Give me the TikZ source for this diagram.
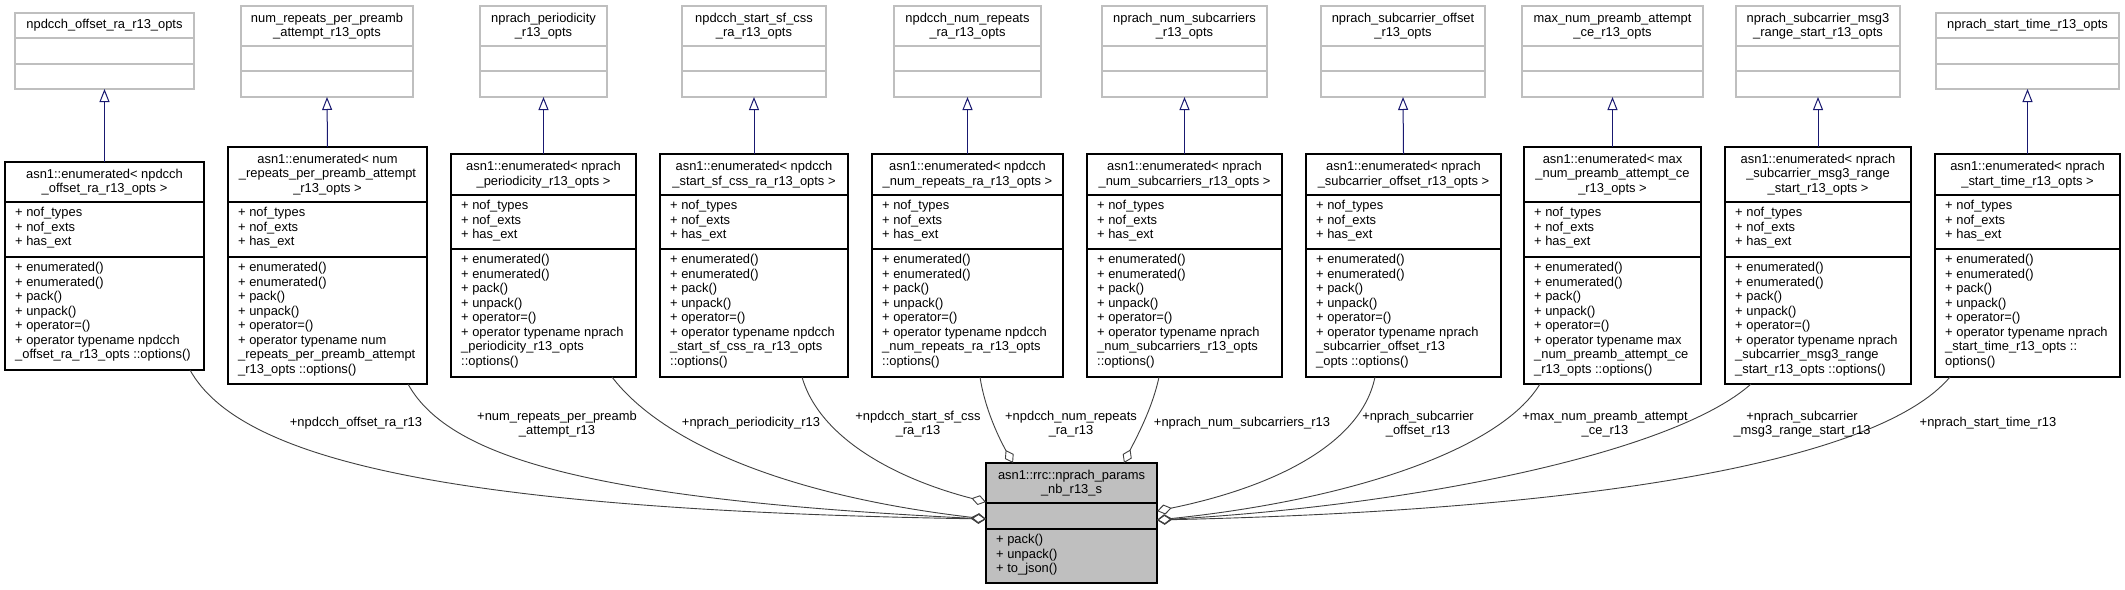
\documentclass[tikz,border=0pt]{standalone}
\usepackage{fontspec}
\setmainfont{Liberation Sans}
\usetikzlibrary{arrows.meta,calc}
\definecolor{gbord}{HTML}{BFBFBF}
\definecolor{cfill}{HTML}{BFBFBF}
\definecolor{inhc}{HTML}{191970}
\definecolor{aggc}{HTML}{404040}
\newcommand{\umlframe}[8]{%
  \node[#2, minimum width={#4-#3}, minimum height={#8-#5}, anchor=north west] (#1) at (#3,#5) {};
  \coordinate (#1-a) at (#3,#6);
  \coordinate (#1-b) at (#3,#7);
  \draw[#2sep] (#3,#6) -- (#4,#6);
  \draw[#2sep] (#3,#7) -- (#4,#7);
}
\newcommand{\umltitle}[2]{%
  \node[ttl] (#1-t) at ($(#1.north)!0.5!(#1.north |- #1-a)$) {#2};
}
\newcommand{\umllists}[3]{%
  \node[lst] (#1-at) at ($(#1-a)+(10,4.3)$) {\rule{0pt}{10pt}#2};
  \node[lst] (#1-mt) at ($(#1-b)+(10,4.3)$) {\rule{0pt}{10pt}#3};
}
\newcommand{\attrs}{+ nof\_types\\+ nof\_exts\\+ has\_ext}
\newcommand{\enm}{+ enumerated()\\+ enumerated()\\+ pack()\\+ unpack()\\+ operator=()}
\tikzset{
  txtfont/.style={font=\fontsize{12.9}{14.5}\selectfont},
  gbox/.style={draw=gbord, fill=white, line width=1.2pt, inner sep=0pt, outer sep=0pt},
  gboxsep/.style={draw=gbord, line width=1.2pt},
  ebox/.style={draw=black, fill=white, line width=1.2pt, inner sep=0pt, outer sep=0pt},
  eboxsep/.style={draw=black, line width=1.2pt},
  cbox/.style={draw=black, fill=cfill, line width=1.2pt, inner sep=0pt, outer sep=0pt},
  cboxsep/.style={draw=black, line width=1.2pt},
  ttl/.style={txtfont, inner sep=0pt, align=center},
  lst/.style={txtfont, inner sep=0pt, align=left, anchor=north west},
  lbl/.style={txtfont, inner sep=0pt, align=center},
  inh/.style={draw=inhc, line width=1pt, -{Triangle[open, length=13pt, width=10pt]}},
  agg/.style={draw=aggc, line width=0.9pt, {Diamond[open, length=15pt, width=10pt]}-},
}
\begin{document}
\begin{tikzpicture}[x=1pt, y=-1pt]
\fill[white] (0,0) rectangle (2125,589);
\useasboundingbox (0,0) rectangle (2125,589);

% ---------- base classes (gray) ----------
\umlframe{G1}{gbox}{15}{194}{13}{38}{64}{89}
\umltitle{G1}{npdcch\_offset\_ra\_r13\_opts}
\umlframe{G2}{gbox}{241}{413}{6}{46}{71}{97}
\umltitle{G2}{num\_repeats\_per\_preamb\\\_attempt\_r13\_opts}
\umlframe{G3}{gbox}{480}{607}{6}{46}{71}{97}
\umltitle{G3}{nprach\_periodicity\\\_r13\_opts}
\umlframe{G4}{gbox}{682}{826}{6}{46}{71}{97}
\umltitle{G4}{npdcch\_start\_sf\_css\\\_ra\_r13\_opts}
\umlframe{G5}{gbox}{894}{1041}{6}{46}{71}{97}
\umltitle{G5}{npdcch\_num\_repeats\\\_ra\_r13\_opts}
\umlframe{G6}{gbox}{1102}{1267}{6}{46}{71}{97}
\umltitle{G6}{nprach\_num\_subcarriers\\\_r13\_opts}
\umlframe{G7}{gbox}{1321}{1485}{6}{46}{71}{97}
\umltitle{G7}{nprach\_subcarrier\_offset\\\_r13\_opts}
\umlframe{G8}{gbox}{1522}{1703}{6}{46}{71}{97}
\umltitle{G8}{max\_num\_preamb\_attempt\\\_ce\_r13\_opts}
\umlframe{G9}{gbox}{1736}{1900}{6}{46}{71}{97}
\umltitle{G9}{nprach\_subcarrier\_msg3\\\_range\_start\_r13\_opts}
\umlframe{G10}{gbox}{1936}{2119}{13}{38}{64}{89}
\umltitle{G10}{nprach\_start\_time\_r13\_opts}

% ---------- enumerated classes ----------
\umlframe{E1}{ebox}{5}{204}{162}{202}{257}{370}
\umltitle{E1}{asn1::enumerated< npdcch\\\_offset\_ra\_r13\_opts >}
\umllists{E1}{\attrs}{\enm\\+ operator typename npdcch\\\_offset\_ra\_r13\_opts ::options()}

\umlframe{E2}{ebox}{228}{427}{147}{202}{257}{384}
\umltitle{E2}{asn1::enumerated< num\\\_repeats\_per\_preamb\_attempt\\\_r13\_opts >}
\umllists{E2}{\attrs}{\enm\\+ operator typename num\\\_repeats\_per\_preamb\_attempt\\\_r13\_opts ::options()}

\umlframe{E3}{ebox}{451}{636}{154}{195}{249}{377}
\umltitle{E3}{asn1::enumerated< nprach\\\_periodicity\_r13\_opts >}
\umllists{E3}{\attrs}{\enm\\+ operator typename nprach\\\_periodicity\_r13\_opts\\::options()}

\umlframe{E4}{ebox}{660}{848}{154}{195}{249}{377}
\umltitle{E4}{asn1::enumerated< npdcch\\\_start\_sf\_css\_ra\_r13\_opts >}
\umllists{E4}{\attrs}{\enm\\+ operator typename npdcch\\\_start\_sf\_css\_ra\_r13\_opts\\::options()}

\umlframe{E5}{ebox}{872}{1063}{154}{195}{249}{377}
\umltitle{E5}{asn1::enumerated< npdcch\\\_num\_repeats\_ra\_r13\_opts >}
\umllists{E5}{\attrs}{\enm\\+ operator typename npdcch\\\_num\_repeats\_ra\_r13\_opts\\ ::options()}

\umlframe{E6}{ebox}{1087}{1282}{154}{195}{249}{377}
\umltitle{E6}{asn1::enumerated< nprach\\\_num\_subcarriers\_r13\_opts >}
\umllists{E6}{\attrs}{\enm\\+ operator typename nprach\\\_num\_subcarriers\_r13\_opts\\ ::options()}

\umlframe{E7}{ebox}{1306}{1501}{154}{195}{249}{377}
\umltitle{E7}{asn1::enumerated< nprach\\\_subcarrier\_offset\_r13\_opts >}
\umllists{E7}{\attrs}{\enm\\+ operator typename nprach\\\_subcarrier\_offset\_r13\\\_opts ::options()}

\umlframe{E8}{ebox}{1524}{1701}{147}{202}{257}{384}
\umltitle{E8}{asn1::enumerated< max\\\_num\_preamb\_attempt\_ce\\\_r13\_opts >}
\umllists{E8}{\attrs}{\enm\\+ operator typename max\\\_num\_preamb\_attempt\_ce\\\_r13\_opts ::options()}

\umlframe{E9}{ebox}{1725}{1911}{147}{202}{257}{384}
\umltitle{E9}{asn1::enumerated< nprach\\\_subcarrier\_msg3\_range\\\_start\_r13\_opts >}
\umllists{E9}{\attrs}{\enm\\+ operator typename nprach\\\_subcarrier\_msg3\_range\\\_start\_r13\_opts ::options()}

\umlframe{E10}{ebox}{1935}{2120}{154}{195}{249}{377}
\umltitle{E10}{asn1::enumerated< nprach\\\_start\_time\_r13\_opts >}
\umllists{E10}{\attrs}{\enm\\+ operator typename nprach\\\_start\_time\_r13\_opts ::\\options()}

% ---------- central class ----------
\umlframe{C}{cbox}{986}{1157}{463}{503}{529}{583}
\umltitle{C}{asn1::rrc::nprach\_params\\\_nb\_r13\_s}
\node[lst] (C-mt) at ($(C-b)+(10,4.3)$) {\rule{0pt}{10pt}+ pack()\\+ unpack()\\+ to\_json()};

% ---------- inheritance ----------
\foreach \i in {1,...,10} { \draw[inh] (E\i.north) -- (G\i.south); }

% ---------- aggregation connectors ----------
\draw[agg] ($(C.west)+(0,-4)$) .. controls (450,510) and (240,460) .. ($(E1.south)+(85.5,0)$);
\draw[agg] ($(C.west)+(0,-4)$) .. controls (600,500) and (450,460) .. ($(E2.south)+(80.5,0)$);
\draw[agg] ($(C.west)+(0,-4)$) .. controls (780,495) and (660,440) .. ($(E3.south)+(68.5,0)$);
\draw[agg] ($(C.west)+(0,-21)$) .. controls (900,480) and (820,440) .. ($(E4.south)+(48,0)$);
\draw[agg] ($(C.north)+(-58.5,0)$) .. controls (1000,440) and (985,410) .. ($(E5.south)+(12.5,0)$);
\draw[agg] ($(C.north)+(52.5,0)$) .. controls (1135,440) and (1152,410) .. ($(E6.south)+(-25.5,0)$);
\draw[agg] ($(C.east)+(0,-12)$) .. controls (1260,490) and (1360,450) .. ($(E7.south)+(-28.5,0)$);
\draw[agg] ($(C.east)+(0,-3)$) .. controls (1350,500) and (1500,450) .. ($(E8.south)+(-72.5,0)$);
\draw[agg] ($(C.east)+(0,-3)$) .. controls (1420,505) and (1675,452) .. ($(E9.south)+(-67,0)$);
\draw[agg] ($(C.east)+(0,-3)$) .. controls (1600,510) and (1880,460) .. ($(E10.south)+(-77.5,0)$);

% ---------- labels ----------
\node[lbl] (L1) at (356,423) {+npdcch\_offset\_ra\_r13};
\node[lbl] (L2) at (557,424) {+num\_repeats\_per\_preamb\\\_attempt\_r13};
\node[lbl] (L3) at (751,423) {+nprach\_periodicity\_r13};
\node[lbl] (L4) at (918,424) {+npdcch\_start\_sf\_css\\\_ra\_r13};
\node[lbl] (L5) at (1071,424) {+npdcch\_num\_repeats\\\_ra\_r13};
\node[lbl] (L6) at (1242,423) {+nprach\_num\_subcarriers\_r13};
\node[lbl] (L7) at (1418,424) {+nprach\_subcarrier\\\_offset\_r13};
\node[lbl] (L8) at (1605,424) {+max\_num\_preamb\_attempt\\\_ce\_r13};
\node[lbl] (L9) at (1802,424) {+nprach\_subcarrier\\\_msg3\_range\_start\_r13};
\node[lbl] (L10) at (1988,423) {+nprach\_start\_time\_r13};
\end{tikzpicture}
\end{document}
